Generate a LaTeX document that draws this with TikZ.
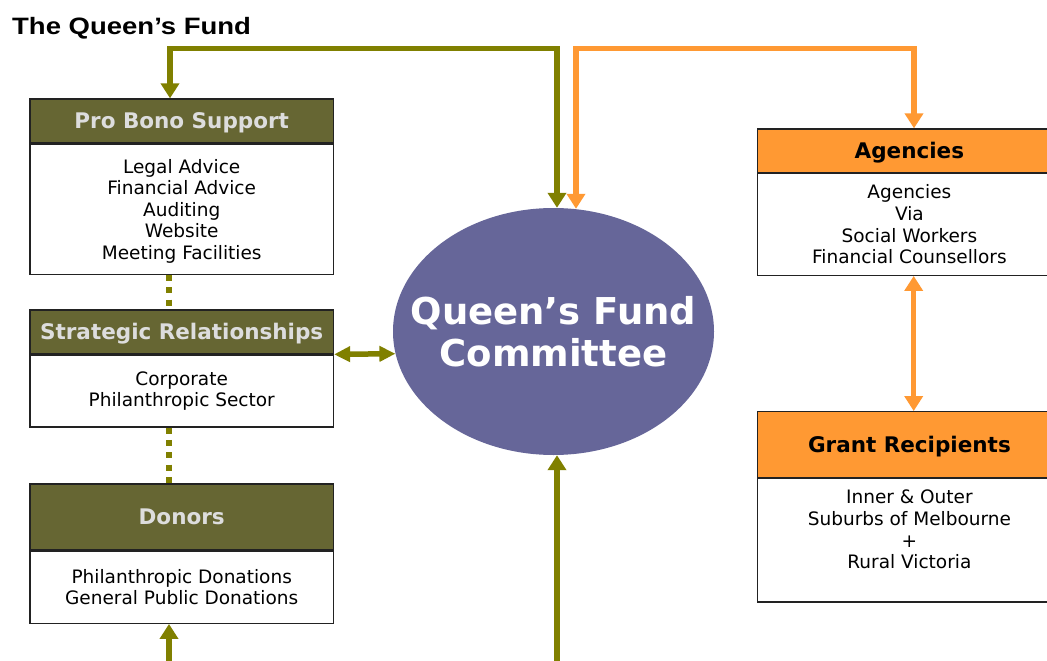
\documentclass[tikz,border=0pt]{standalone}
\usepackage{fontspec}
\usepackage{graphicx}
\setmainfont{DejaVu Sans}
\newfontfamily\titlefont{Liberation Sans}
\usetikzlibrary{arrows.meta,shapes.geometric}
\definecolor{olv}{HTML}{808000}
\definecolor{olvhead}{HTML}{666633}
\definecolor{org}{HTML}{FF9933}
\definecolor{qpurple}{HTML}{666699}
\definecolor{hdrtext}{HTML}{DDDDDD}
\definecolor{edge}{HTML}{222222}
\begin{document}
\begin{tikzpicture}[x=1pt,y=-1pt,
  box/.style={draw=edge, line width=1.3pt, rectangle, minimum width=303.5pt, inner sep=0pt, align=center},
  olvhdr/.style={box, fill=olvhead, text=hdrtext, text height=16pt, text depth=0pt, font=\fontsize{21.5}{24}\selectfont\bfseries},
  orghdr/.style={box, fill=org, text=black, text height=16pt, text depth=0pt, font=\fontsize{21.5}{24}\selectfont\bfseries},
  bodybox/.style={box, fill=white, anchor=north, font=\fontsize{18.5}{21.6}\selectfont},
  olvline/.style={draw=olv, line width=5.5pt, line join=miter},
  orgline/.style={draw=org, line width=5.5pt, line join=miter},
  tipA/.style={-{Triangle[width=18pt,length=15pt]}},
  tipB/.style={{Triangle[width=18pt,length=15pt]}-{Triangle[width=18pt,length=15pt]}},
  tipC/.style={{Triangle[width=15pt,length=16pt]}-{Triangle[width=15pt,length=16pt]}},
  dotline/.style={draw=olv, line width=6pt, dash pattern=on 6pt off 6.3pt}
]
\clip (0,0) rectangle (1047,661);
\fill[white] (0,0) rectangle (1047,661);

% title
\node[anchor=base west, inner sep=0pt, font=\titlefont\fontsize{23.7}{28}\selectfont\bfseries] (title) at (12,35) {\scalebox{1.16}[1]{The Queen’s Fund}};

% left column
\node[olvhdr, minimum height=43.7pt] (pbh) at (181.7,120.85) {Pro Bono Support};
\node[bodybox, minimum height=130.3pt] (pbb) at (pbh.south) {\rule{0pt}{18pt}Legal Advice\\Financial Advice\\Auditing\\Website\\Meeting Facilities};

\node[olvhdr, minimum height=43.7pt] (srh) at (181.7,331.85) {Strategic Relationships};
\node[bodybox, minimum height=72pt] (srb) at (srh.south) {Corporate\\Philanthropic Sector};

\node[olvhdr, minimum height=65.7pt] (dnh) at (181.7,516.85) {Donors};
\node[bodybox, minimum height=72.3pt] (dnb) at (dnh.south) {Philanthropic Donations\\General Public Donations};

% right column
\node[orghdr, minimum height=43.3pt] (agh) at (909.4,150.65) {Agencies};
\node[bodybox, minimum height=101.7pt] (agb) at (agh.south) {Agencies\\Via\\Social Workers\\Financial Counsellors};

\node[orghdr, minimum height=65.6pt] (grh) at (909.4,444.5) {Grant Recipients};
\node[bodybox, minimum height=123.4pt] (grb) at (grh.south) {Inner \& Outer\\Suburbs of Melbourne\\+\\Rural Victoria\\\mbox{}};

% committee
\node[ellipse, fill=qpurple, minimum width=321pt, minimum height=247pt, inner sep=0pt] (qfc) at (553.5,331.5) {};
\node[inner sep=0pt, text=white, align=center, font=\fontsize{37}{42}\selectfont\bfseries] (qft) at (qfc.center) {Queen’s Fund\\Committee};

\coordinate (qbot) at (557,668);
\coordinate (dbot) at (169,668);

% connectors
\draw[olvline, tipB] ([xshift=-11.7pt]pbh.north) -- ++(0,-50) -| ([xshift=3.5pt]qfc.north);
\draw[orgline, tipB] ([xshift=4.6pt]agh.north) -- ++(0,-80) -| ([xshift=22.5pt,yshift=-1pt]qfc.north);
\draw[dotline] ([xshift=-12.7pt]pbb.south) -- ([xshift=-12.7pt]srh.north);
\draw[dotline] ([xshift=-12.7pt]srb.south) -- ([xshift=-12.7pt]dnh.north);
\draw[olvline, tipC] (srh.south east) -- (qfc.188);
\draw[olvline, tipA] (qbot) -- ([xshift=3.5pt]qfc.south);
\draw[olvline, tipA] (dbot) -- ([xshift=-12.7pt]dnb.south);
\draw[orgline, tipB] ([xshift=4.3pt]agb.south) -- ([xshift=4.3pt]grh.north);
\end{tikzpicture}
\end{document}
